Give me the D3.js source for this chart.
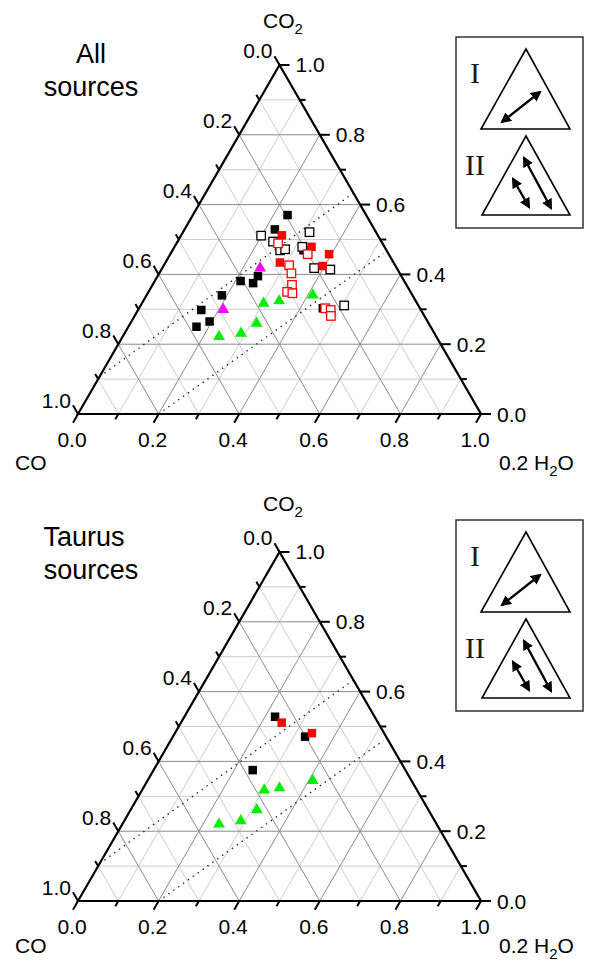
<!DOCTYPE html>
<html><head><meta charset="utf-8">
<script src="https://cdn.jsdelivr.net/npm/d3@7"></script>
<style>body{margin:0;background:#fff} svg{display:block}</style>
</head><body><svg id="c" width="597" height="965"></svg>
<script>
// tick values / labels
const majorTicks = [0, 0.2, 0.4, 0.6, 0.8, 1.0];
const tickLabels = ["0.0", "0.2", "0.4", "0.6", "0.8", "1.0"];
const minorTicks = [0.1, 0.3, 0.5, 0.7, 0.9];
const gridValues = [0.1, 0.2, 0.3, 0.4, 0.5, 0.6, 0.7, 0.8, 0.9];

// each point: [CO2, 0.2 H2O] fractions; CO = 1 - CO2 - H2O
const allBlackFilled = [[0.250,0.169],[0.265,0.194],[0.298,0.157],[0.340,0.187],[0.381,0.213],
  [0.375,0.247],[0.395,0.249],[0.529,0.224],[0.570,0.235],[0.469,0.325],[0.303,0.456]];
const allBlackOpen = [[0.511,0.199],[0.494,0.237],[0.469,0.267],[0.472,0.278],[0.521,0.314],
  [0.479,0.317],[0.418,0.377],[0.414,0.419],[0.311,0.505]];
const allRedFilled = [[0.512,0.250],[0.479,0.340],[0.458,0.394],[0.424,0.395],[0.434,0.284]];
const allRedOpen = [[0.489,0.252],[0.458,0.341],[0.426,0.311],[0.403,0.328],[0.370,0.346],
  [0.350,0.344],[0.346,0.359],[0.303,0.462],[0.298,0.478],[0.281,0.487]];
const allMagenta = [[0.299,0.211],[0.418,0.243]];
const allGreen = [[0.222,0.239],[0.231,0.289],[0.260,0.313],[0.317,0.302],[0.324,0.337],[0.341,0.412]];

const taurusBlackFilled = [[0.528,0.225],[0.471,0.328],[0.375,0.246]];
const taurusRedFilled = [[0.511,0.250],[0.481,0.340]];
const taurusGreen = [[0.220,0.240],[0.230,0.289],[0.261,0.313],[0.318,0.303],[0.324,0.338],[0.345,0.410]];

// dotted guide lines: endpoints as [CO2, H2O]
const guideLines = [[[0.107,0.0],[0.632,0.366]], [[0.0,0.2],[0.460,0.528]]];

const svg = d3.select("#c");
const FONT = "'Liberation Sans', Arial, sans-serif";

const defs = svg.append("defs");
defs.append("marker").attr("id","ah").attr("viewBox","0 0 10 10").attr("refX",8).attr("refY",5)
  .attr("markerWidth",4.5).attr("markerHeight",4.5).attr("orient","auto-start-reverse")
  .attr("markerUnits","strokeWidth")
  .append("path").attr("d","M0,0 L10,5 L0,10 z").attr("fill","#000");

function panel(dy, titleLines, sets, textShift) {
  const g = svg.append("g").attr("transform", `translate(0,${dy})`);
  const L = 78, R = 481, B = 414;
  const H = (R - L) * Math.sqrt(3) / 2;
  const xs = d3.scaleLinear().domain([0, 1]).range([L, R]);
  const ys = d3.scaleLinear().domain([0, 1]).range([B, B - H]);
  const P = (c, h) => [xs(h + c / 2), ys(c)];
  const line = d3.line();

  // grid
  const gridG = g.append("g");
  const order = gridValues.slice().sort((a, b) => (Math.round(a*10)%2===0) - (Math.round(b*10)%2===0));
  order.forEach(v => {
    const major = Math.round(v * 10) % 2 === 0;
    const col = major ? "#8a8a8a" : "#cdcdcd";
    const segs = [
      [P(v, 0), P(v, 1 - v)],
      [P(0, v), P(1 - v, v)],
      [P(0, 1 - v), P(1 - v, 0)]
    ];
    segs.forEach(s => gridG.append("path").attr("d", line(s)).attr("stroke", col)
      .attr("stroke-width", 1).attr("fill", "none"));
  });

  // guide dotted lines
  guideLines.forEach(gl => {
    g.append("path").attr("d", line(gl.map(p => P(p[0], p[1]))))
      .attr("stroke", "#222").attr("stroke-width", 1.4).attr("fill", "none")
      .attr("stroke-dasharray", "1.4,4.6");
  });

  // axis triangle
  g.append("path").attr("d", line([P(0, 0), P(1, 0), P(0, 1)]) + "Z")
    .attr("fill", "none").attr("stroke", "#000").attr("stroke-width", 2.2)
    .attr("stroke-linejoin", "miter");

  // ticks
  const tickG = g.append("g").attr("stroke", "#000").attr("stroke-width", 2);
  const s3 = Math.sqrt(3) / 2;
  const addTicks = (vals, len) => {
    vals.forEach(v => {
      let [x, y] = P(1 - v, 0);
      tickG.append("line").attr("x1", x).attr("y1", y).attr("x2", x - 0.5 * len).attr("y2", y - s3 * len);
      [x, y] = P(v, 1 - v);
      tickG.append("line").attr("x1", x).attr("y1", y).attr("x2", x + len).attr("y2", y);
      [x, y] = P(0, v);
      tickG.append("line").attr("x1", x).attr("y1", y).attr("x2", x - 0.5 * len).attr("y2", y + s3 * len);
    });
  };
  addTicks(majorTicks, 10);
  addTicks(minorTicks, 6);

  const lab = g.append("g").attr("font-family", FONT).attr("font-size", 21).attr("fill", "#000");
  majorTicks.forEach((v, i) => {
    let [x, y] = P(1 - v, 0);
    lab.append("text").attr("x", x - 7).attr("y", y - 14).attr("text-anchor", "end")
      .attr("dominant-baseline", "central").text(tickLabels[i]);
    [x, y] = P(v, 1 - v);
    lab.append("text").attr("x", x + 16).attr("y", y).attr("text-anchor", "start")
      .attr("dominant-baseline", "central").text(tickLabels[i]);
    [x, y] = P(0, v);
    lab.append("text").attr("x", x - 6).attr("y", y + 25).attr("text-anchor", "middle")
      .attr("dominant-baseline", "central").text(tickLabels[i]);
  });

  // axis titles
  const t1 = lab.append("text").attr("x", 263).attr("y", 28 + textShift);
  t1.append("tspan").text("CO");
  t1.append("tspan").attr("font-size", 15).attr("dy", 6).text("2");
  lab.append("text").attr("x", 15).attr("y", 470 + textShift).text("CO");
  const t3 = lab.append("text").attr("x", 499).attr("y", 470 + textShift);
  t3.append("tspan").text("0.2 H");
  t3.append("tspan").attr("font-size", 15).attr("dy", 6).text("2");
  t3.append("tspan").attr("dy", -6).text("O");

  // panel title
  const tt = g.append("g").attr("font-family", FONT).attr("font-size", 27).attr("text-anchor", "middle");
  tt.append("text").attr("x", titleLines[2]).attr("y", 63 + textShift).text(titleLines[0]);
  tt.append("text").attr("x", 91).attr("y", 96 + textShift).text(titleLines[1]);

  // data
  const sq = 8.5;
  const drawSquares = (data, fill, stroke) => {
    g.append("g").selectAll("rect").data(data).join("rect")
      .attr("x", d => P(d[0], d[1])[0] - sq / 2)
      .attr("y", d => P(d[0], d[1])[1] - sq / 2)
      .attr("width", sq).attr("height", sq)
      .attr("fill", fill).attr("stroke", stroke).attr("stroke-width", stroke === "none" ? 0 : 1.3);
  };
  const tri = d3.symbol().type(d3.symbolTriangle).size(60);
  const drawTris = (data, fill) => {
    g.append("g").selectAll("path").data(data).join("path")
      .attr("d", tri)
      .attr("transform", d => { const p = P(d[0], d[1]); return `translate(${p[0]},${p[1]})`; })
      .attr("fill", fill);
  };
  if (sets.magenta) drawTris(sets.magenta, "#ff00ff");
  if (sets.green) drawTris(sets.green, "#00ee00");
  if (sets.blackFilled) drawSquares(sets.blackFilled, "#000", "none");
  if (sets.blackOpen) drawSquares(sets.blackOpen, "#fff", "#000");
  if (sets.redFilled) drawSquares(sets.redFilled, "#ff0000", "none");
  if (sets.redOpen) drawSquares(sets.redOpen, "#fff", "#ff0000");

  // legend inset
  const lg = g.append("g").attr("transform", `translate(0,${textShift})`);
  lg.append("rect").attr("x", 456).attr("y", 37).attr("width", 127).attr("height", 191)
    .attr("fill", "#fff").attr("stroke", "#333").attr("stroke-width", 1.5);
  const triPath = (ax, ay, bl, br, by) => `M${ax},${ay} L${br},${by} L${bl},${by} Z`;
  lg.append("path").attr("d", triPath(526, 49, 481, 570, 129)).attr("fill", "none")
    .attr("stroke", "#000").attr("stroke-width", 1.6).attr("stroke-linejoin", "miter");
  lg.append("path").attr("d", triPath(526, 136, 482, 570, 215)).attr("fill", "none")
    .attr("stroke", "#000").attr("stroke-width", 1.6).attr("stroke-linejoin", "miter");
  const arrows = [[502, 122, 540, 92], [513, 179, 529, 207], [524, 158, 551, 208]];
  arrows.forEach(a => lg.append("line").attr("x1", a[0]).attr("y1", a[1]).attr("x2", a[2]).attr("y2", a[3])
    .attr("stroke", "#000").attr("stroke-width", 2.4)
    .attr("marker-start", "url(#ah)").attr("marker-end", "url(#ah)"));
  const rf = "'Liberation Serif', 'Times New Roman', serif";
  lg.append("text").attr("x", 475).attr("y", 83).attr("text-anchor", "middle")
    .attr("font-family", rf).attr("font-size", 30).attr("fill", "#1a1a1a").text("I");
  lg.append("text").attr("x", 475).attr("y", 175).attr("text-anchor", "middle")
    .attr("font-family", rf).attr("font-size", 30).attr("fill", "#1a1a1a").text("II");
}

panel(0, ["All", "sources", 91], {
  blackFilled: allBlackFilled, blackOpen: allBlackOpen, redFilled: allRedFilled,
  redOpen: allRedOpen, magenta: allMagenta, green: allGreen
}, 0);
panel(487, ["Taurus", "sources", 84], {
  blackFilled: taurusBlackFilled, redFilled: taurusRedFilled, green: taurusGreen
}, -4);
</script></body></html>
